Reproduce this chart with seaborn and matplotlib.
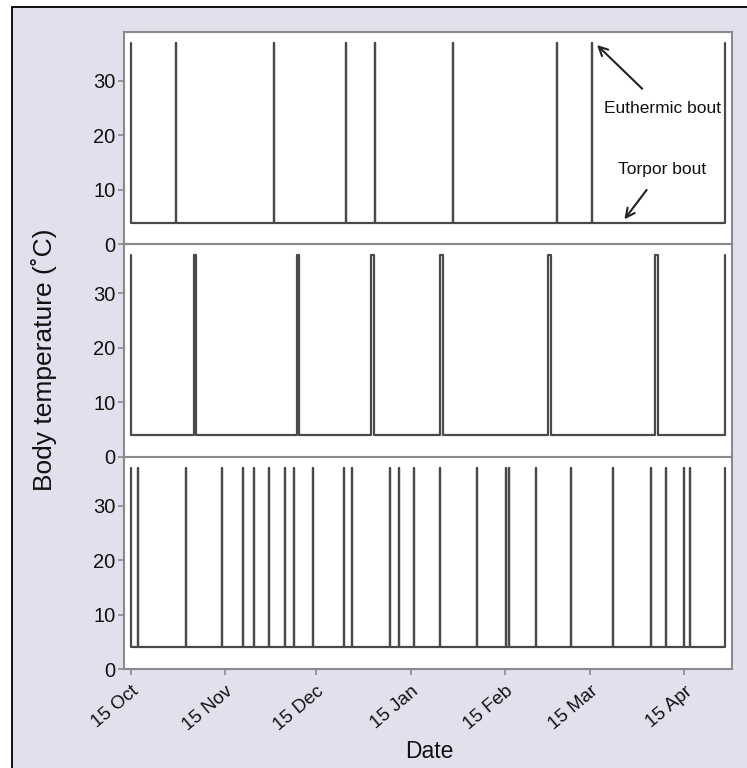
import numpy as np
import pandas as pd
import matplotlib.pyplot as plt
import seaborn as sns
from matplotlib.patches import Rectangle

# days since 15 Oct on which each animal aroused to euthermia
arousals_1 = [0, 14.8, 47.1, 70.8, 80.3, 106.0, 140.2, 151.7, 195.5]
arousals_2 = [0, 20.7, 54.6, 79.0, 101.7, 137.3, 172.5, 195.5]
arousals_3 = [0, 2.4, 18.0, 29.9, 37.0, 40.5, 45.5, 50.5, 53.6, 59.8, 70.1, 72.6,
              85.3, 88.3, 93.1, 101.6, 113.8, 123.3, 124.4, 133.2, 144.9,
              158.4, 171.1, 176.0, 181.8, 183.8, 195.5]
bout_len = [0.0, 0.8, 0.0]  # length of euthermic bout (days)
torpor_tb = 4.0
euthermic_tb = 37.0

tick_days = [0, 31, 61, 92, 123, 151, 182]
tick_labels = ["15 Oct", "15 Nov", "15 Dec", "15 Jan", "15 Feb", "15 Mar", "15 Apr"]


def trace(arousals, width):
    # first point starts euthermic, last point ends euthermic
    xs, ys = [arousals[0]], [euthermic_tb]
    xs.append(arousals[0]); ys.append(torpor_tb)
    for d in arousals[1:-1]:
        xs += [d, d, d + width, d + width]
        ys += [torpor_tb, euthermic_tb, euthermic_tb, torpor_tb]
    xs += [arousals[-1], arousals[-1]]
    ys += [torpor_tb, euthermic_tb]
    return pd.DataFrame({"day": xs, "tb": ys})


sns.set_style("white")
plt.rcParams["font.family"] = ["Liberation Sans", "DejaVu Sans"]

fig = plt.figure(figsize=(7.47, 7.68), dpi=100)
fig.patch.set_facecolor("white")
fig.patches.append(Rectangle((12 / 747, -0.05), 1.0, 1 - 7 / 768 + 0.05,
                             transform=fig.transFigure, facecolor="#e1e1ee",
                             edgecolor="black", lw=1.3, zorder=-10))

axes = fig.subplots(3, 1, sharex=True, gridspec_kw=dict(hspace=0))
fig.subplots_adjust(left=124 / 747, right=732 / 747, top=1 - 32 / 768, bottom=1 - 669 / 768)

for ax, arr, w in zip(axes, [arousals_1, arousals_2, arousals_3], bout_len):
    df = trace(arr, w)
    sns.lineplot(data=df, x="day", y="tb", sort=False, estimator=None,
                 ax=ax, color="#4a4a4a", lw=1.6)
    ax.set_facecolor("white")
    ax.set_ylim(0, 39)
    ax.set_xlim(-2.3, 197.7)
    ax.set_yticks([0, 10, 20, 30])
    ax.set_xlabel("")
    ax.set_ylabel("")
    for s in ax.spines.values():
        s.set_color("#8a8a8a")
        s.set_linewidth(1.5)
    ax.tick_params(axis="y", direction="out", length=4, width=1.2, color="#8a8a8a",
                   labelsize=14.5, pad=2, left=True, labelcolor="#111111")
    ax.tick_params(axis="x", bottom=False, labelbottom=False)

axes[2].set_xticks(tick_days)
axes[2].set_xticklabels(tick_labels, rotation=40, ha="right", rotation_mode="anchor")
axes[2].tick_params(axis="x", bottom=True, labelbottom=True, direction="out", length=4,
                    width=1.2, color="#8a8a8a", labelsize=13.5, pad=6, labelcolor="#111111")

ax0 = axes[0]
ax0.annotate("Euthermic bout", xy=(153.3, 36.6), xytext=(174.8, 25.0),
             ha="center", va="center", fontsize=12.5, color="#111111",
             arrowprops=dict(arrowstyle="->", color="#222222", lw=1.5,
                             shrinkA=9, shrinkB=0, mutation_scale=16))
ax0.annotate("Torpor bout", xy=(162.3, 4.6), xytext=(174.8, 13.8),
             ha="center", va="center", fontsize=12.5, color="#111111",
             arrowprops=dict(arrowstyle="->", color="#222222", lw=1.5,
                             shrinkA=9, shrinkB=0, mutation_scale=16))

fig.text(44 / 747, 1 - 360 / 768, "Body temperature (\u02daC)", rotation=90,
         ha="center", va="center", fontsize=19, color="#111111")
fig.text(429 / 747, 1 - 752 / 768, "Date", ha="center", va="center",
         fontsize=16.5, color="#111111")

fig.savefig("out.png", dpi=100)
